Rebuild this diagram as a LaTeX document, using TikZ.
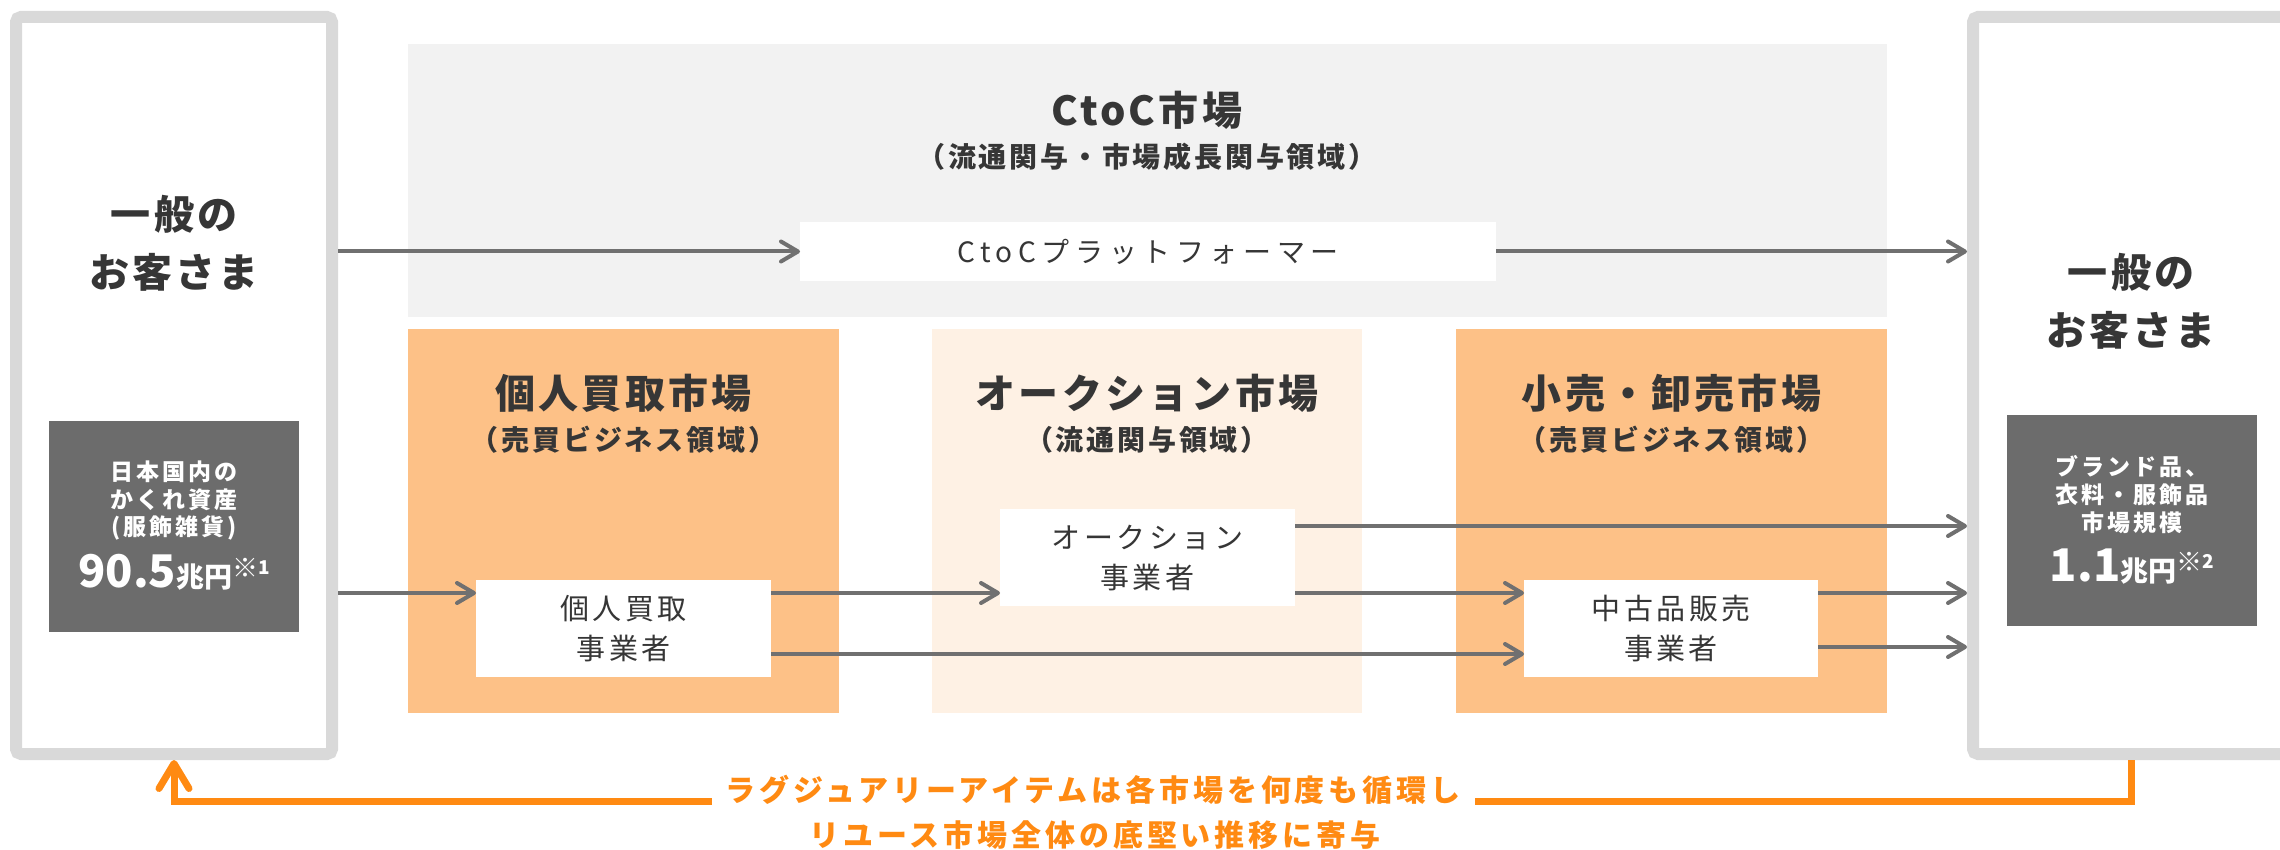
\documentclass[tikz,border=0pt]{standalone}
\usepackage{fontspec}
\setmainfont{Noto Sans CJK JP}
\usetikzlibrary{arrows.meta}
\definecolor{txt}{HTML}{363636}
\definecolor{frame}{HTML}{D9D9D9}
\definecolor{ctocbg}{HTML}{F2F2F2}
\definecolor{orbox}{HTML}{FDC187}
\definecolor{orlight}{HTML}{FEF1E4}
\definecolor{dkgray}{HTML}{6C6C6C}
\definecolor{arrowgray}{HTML}{707070}
\definecolor{loopor}{HTML}{FF8A12}
\newcommand{\fs}[3]{\fontsize{#1}{#2}\selectfont\addfontfeatures{LetterSpace=#3}}
\tikzset{
 custbox/.style={draw=frame, line width=12pt, fill=white, rounded corners=5pt, minimum width=316pt, minimum height=737pt, inner sep=0pt, outer sep=6pt},
 area/.style={inner sep=0pt, outer sep=0pt, draw=none},
 whitebox/.style={area, fill=white, minimum width=295pt, minimum height=97pt, text=txt, align=center, font=\fs{29}{40}{12}},
 darkpanel/.style={area, fill=dkgray, minimum width=250pt, minimum height=211pt},
 bigtitle/.style={area, text=txt, font=\bfseries\fs{40}{58}{8}, align=center},
 subtitle/.style={area, text=txt, font=\bfseries\fs{28}{32}{10}},
 darktext/.style={area, text=white, font=\bfseries\fs{23}{28}{13}},
 flow/.style={draw=arrowgray, line width=4pt, -{Straight Barb[length=17pt,width=20pt,round]}},
 loopline/.style={draw=loopor, line width=7pt, -{Straight Barb[length=25pt,width=30pt,round]}},
 looptext/.style={area, text=loopor, font=\bfseries\fs{30}{36}{13}, fill=white, inner xsep=14pt, inner ysep=4pt},
}
\begin{document}
\begin{tikzpicture}[x=1pt,y=-1pt]
\clip (0,0) rectangle (2280,850);
\fill[white] (0,0) rectangle (2280,850);

% customer boxes
\node[custbox] (L) at (174,385.5) {};
\node[custbox] (R) at (2131,385.5) {};
\node[bigtitle] (Lt) at (174,243) {一般の\\お客さま};
\node[bigtitle] (Rt) at (2131,301) {一般の\\お客さま};

% left dark panel
\node[darkpanel] (LD) at (174,526.5) {};
\node[darktext] (LD1) at (174,472) {日本国内の};
\node[darktext] (LD2) at (174,500) {かくれ資産};
\node[darktext] (LD3) at (174,528) {(服飾雑貨)};
\node[darktext] (LD4) at (174,572) {{\fs{45}{45}{0}90.5}{\fs{28}{28}{0}兆円}\raisebox{10pt}{\fs{26}{26}{0}※}\raisebox{13pt}{\fs{19}{19}{0}1}};

% right dark panel
\node[darkpanel] (RD) at (2132,520.5) {};
\node[darktext] (RD1) at (2132,467) {ブランド品、};
\node[darktext] (RD2) at (2132,495) {衣料・服飾品};
\node[darktext] (RD3) at (2132,523) {市場規模};
\node[darktext] (RD4) at (2132,567) {{\fs{45}{45}{0}1.1}{\fs{28}{28}{0}兆円}\raisebox{10pt}{\fs{26}{26}{0}※}\raisebox{13pt}{\fs{19}{19}{0}2}};

% CtoC market
\node[area, fill=ctocbg, minimum width=1479pt, minimum height=273pt] (C) at (1147.5,180.5) {};
\node[bigtitle] (Ct) at (1147,110) {CtoC市場};
\node[subtitle] (Cs) at (1147,157) {（流通関与・市場成長関与領域）};
\node[area, fill=white, minimum width=696pt, minimum height=59pt, text=txt, font=\fs{28}{28}{20}] (P) at (1148,251.5) {CtoCプラットフォーマー};

% market areas
\node[area, fill=orbox, minimum width=431pt, minimum height=384pt] (B1) at (623.5,521) {};
\node[area, fill=orlight, minimum width=430pt, minimum height=384pt] (B2) at (1147,521) {};
\node[area, fill=orbox, minimum width=431pt, minimum height=384pt] (B3) at (1671.5,521) {};
\node[bigtitle] (B1t) at (623.5,393) {個人買取市場};
\node[bigtitle] (B2t) at (1147,393) {オークション市場};
\node[bigtitle] (B3t) at (1671.5,393) {小売・卸売市場};
\node[subtitle] (B1s) at (623.5,440) {（売買ビジネス領域）};
\node[subtitle] (B2s) at (1147,440) {（流通関与領域）};
\node[subtitle] (B3s) at (1671.5,440) {（売買ビジネス領域）};

% operators
\node[whitebox] (W1) at (623.5,628.5) {個人買取\\事業者};
\node[whitebox] (W2) at (1147.5,557.5) {オークション\\事業者};
\node[whitebox, minimum width=294pt] (W3) at (1671,628.5) {中古品販売\\事業者};

% flows
\coordinate (rowB) at (0,593);
\coordinate (rowC) at (0,654);
\coordinate (rowD) at (0,526);
\coordinate (rowE) at (0,647);
\draw[flow] (L.east |- P.west) -- (P.west);
\draw[flow] (P.east) -- (R.west |- P.east);
\draw[flow] (L.east |- rowB) -- (W1.west |- rowB);
\draw[flow] (W1.east |- rowB) -- (W2.west |- rowB);
\draw[flow] (W2.east |- rowB) -- (W3.west |- rowB);
\draw[flow] (W3.east |- rowB) -- (R.west |- rowB);
\draw[flow] (W1.east |- rowC) -- (W3.west |- rowC);
\draw[flow] (W2.east |- rowD) -- (R.west |- rowD);
\draw[flow] (W3.east |- rowE) -- (R.west |- rowE);

% loop
\coordinate (loopY) at (0,801);
\draw[loopline] (R.south) -- (R.south |- loopY) -- (L.south |- loopY) -- (L.south);
\node[looptext] (T1) at (1093,790) {ラグジュアリーアイテムは各市場を何度も循環し};
\node[looptext, fill=none] (T2) at (1095,835) {リユース市場全体の底堅い推移に寄与};
\end{tikzpicture}
\end{document}
